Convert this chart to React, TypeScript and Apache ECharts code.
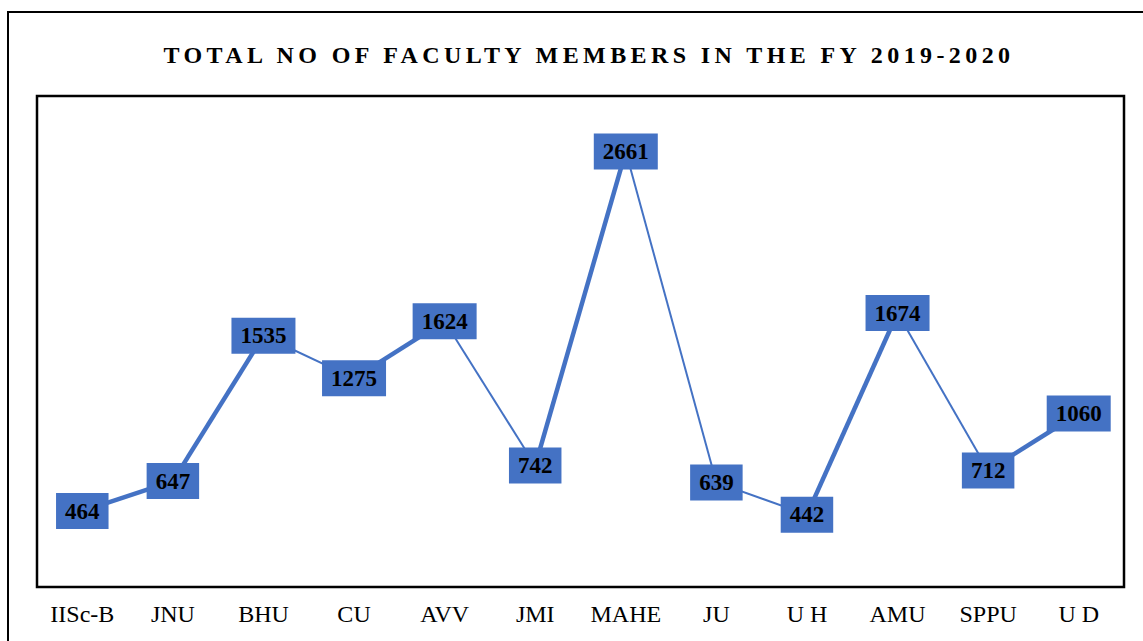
import React, { useEffect, useRef } from "react";
import * as echarts from "echarts";

const categories = ["IISc-B", "JNU", "BHU", "CU", "AVV", "JMI", "MAHE", "JU", "U H", "AMU", "SPPU", "U D"];
const faculty = [464, 647, 1535, 1275, 1624, 742, 2661, 639, 442, 1674, 712, 1060];
const titleText = "TOTAL NO OF FACULTY MEMBERS IN THE FY 2019-2020";

const BLUE = "#4472C4";

export default function App() {
  const ref = useRef<HTMLDivElement>(null);
  useEffect(() => {
    if (!ref.current) return;
    const chart = echarts.init(ref.current, undefined, { renderer: "svg" });
    const segSeries: any[] = [];
    for (let i = 0; i < faculty.length - 1; i++) {
      const up = faculty[i + 1] > faculty[i];
      segSeries.push({
        type: "line",
        data: faculty.map((v, j) => (j === i || j === i + 1 ? v : null)),
        symbol: "none",
        connectNulls: false,
        lineStyle: { color: BLUE, width: up ? 4.5 : 2 },
        z: 2,
        silent: true,
      });
    }
    chart.setOption({
      animation: false,
      title: {
        text: titleText,
        left: 584,
        textAlign: "center",
        top: 38,
        textStyle: {
          fontFamily: "'Liberation Serif', TitleSerifX",
          fontWeight: "bold",
          fontSize: 24,
          color: "#000",
        },
      },
      graphic: [
        {
          type: "rect",
          shape: { x: 8, y: 12, width: 1300, height: 800 },
          style: { fill: "none", stroke: "#000", lineWidth: 2 },
          silent: true,
        },
      ],
      grid: {
        left: 37,
        right: 19,
        top: 96,
        bottom: 54,
        show: true,
        borderColor: "#000",
        borderWidth: 2.5,
        backgroundColor: "transparent",
      },
      xAxis: {
        type: "category",
        data: categories,
        boundaryGap: true,
        axisLine: { show: false },
        axisTick: { show: false },
        axisLabel: {
          interval: 0,
          margin: 15,
          color: "#000",
          fontSize: 24,
          fontFamily: "'Liberation Serif', serif",
        },
      },
      yAxis: {
        type: "value",
        min: 0,
        max: 3000,
        show: false,
        splitLine: { show: false },
      },
      series: [
        ...segSeries,
        {
          type: "scatter",
          data: faculty,
          symbolSize: 0,
          z: 5,
          itemStyle: { opacity: 1, color: BLUE },
          label: {
            show: true,
            position: "inside",
            backgroundColor: BLUE,
            padding: [7, 9, 6, 9],
            color: "#000",
            fontWeight: "bold",
            fontSize: 23,
            opacity: 1,
            fontFamily: "'Liberation Serif', serif",
          },
        },
      ],
    });
    return () => chart.dispose();
  }, []);
  return (
    <>
      <style>{`text[style*="TitleSerifX"]{letter-spacing:4.4px;}`}</style>
      <div
        ref={ref}
        style={{ position: "fixed", left: 0, top: 0, width: 1143, height: 641, background: "#fff" }}
      />
    </>
  );
}
